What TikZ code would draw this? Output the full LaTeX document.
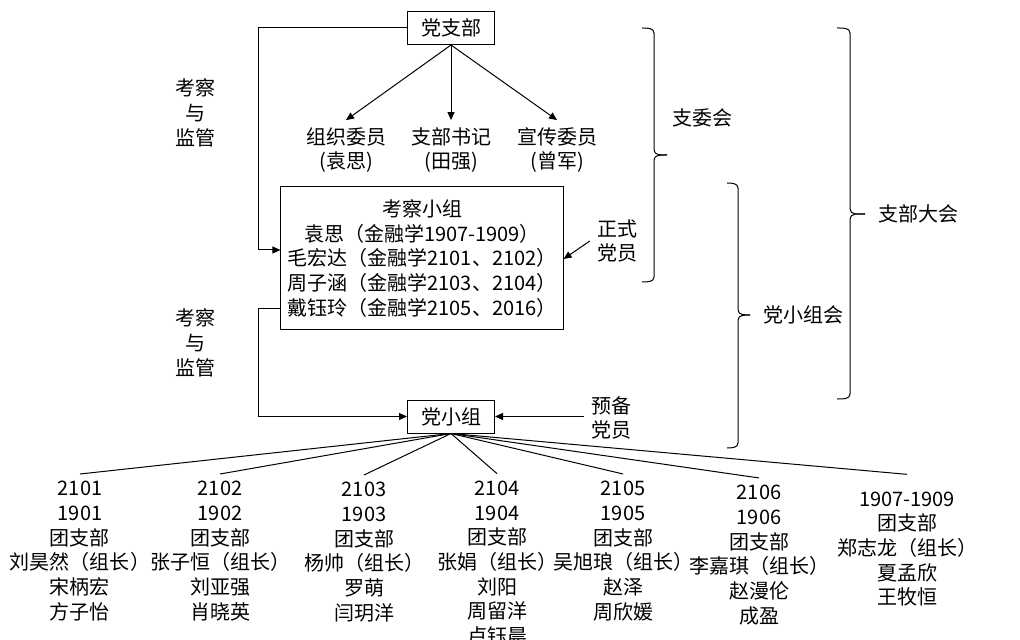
\documentclass[tikz,border=0pt]{standalone}
\usepackage{fontspec}
\setmainfont{Noto Sans CJK SC}
\usetikzlibrary{arrows.meta}

\begin{document}
\begin{tikzpicture}[x=0.5pt, y=-0.5pt, line width=0.5pt,
    every node/.style={font=\fontsize{10pt}{12.35pt}\selectfont},
    box/.style={draw, minimum width=43.5pt, minimum height=16.5pt, inner sep=0pt},
    arr/.style={-{Triangle[length=4pt,width=3.5pt]}}]
    % 0. 画布范围 (单位: 像素)
    \useasboundingbox (0,0) rectangle (1020,640);

    % 1. 党支部与三名支委
    \node[box] (dzb) at (451,28) {党支部};
    \node[align=center] (zzwy) at (346,150) {组织委员\\(袁思)};
    \node[align=center] (zbsj) at (451,150) {支部书记\\(田强)};
    \node[align=center] (xcwy) at (557,150) {宣传委员\\(曾军)};
    \draw[arr] (dzb.south) -- (zzwy.north);
    \draw[arr] (dzb.south) -- (zbsj.north);
    \draw[arr] (dzb.south) -- (xcwy.north);

    % 2. 考察小组与党小组
    \node[draw, align=center, minimum width=140pt, minimum height=71.5pt] (kcxz) at (422,258.5)
        {考察小组\\袁思（金融学1907-1909）\\毛宏达（金融学2101、2102）\\周子涵（金融学2103、2104）\\戴钰玲（金融学2105、2016）};
    \node[box] (dxz) at (451,416.5) {党小组};

    % 3. 左侧考察与监管的折线
    \node[align=center] (kcjg1) at (195,113) {考察\\与\\监管};
    \node[align=center] (kcjg2) at (195,343) {考察\\与\\监管};
    \draw[arr] (dzb.west) -| (258,250) -- (kcxz.west |- 0,250);
    \draw[arr] (kcxz.west |- 0,309) -| (258,416.5) -- (dxz.west);

    % 4. 正式党员与预备党员
    \node[align=center] (zsdy) at (617,241) {正式\\党员};
    \node[align=center] (ybdy) at (611,418) {预备\\党员};
    \draw[arr] (zsdy.west) -- (kcxz.east |- 0,259);
    \draw[arr] (ybdy.west |- dxz.east) -- (dxz.east);

    % 5. 右侧三个括号
    \draw (642,28) to[out=0,in=90] (654,33) -- (654,150) to[out=-90,in=180] (667,155);
    \draw (667,155) to[out=180,in=90] (654,160) -- (654,277) to[out=-90,in=0] (642,282);
    \node (zwh) at (702,118) {支委会};

    \draw (727,183) to[out=0,in=90] (738,188) -- (738,310) to[out=-90,in=180] (750,315);
    \draw (750,315) to[out=180,in=90] (738,320) -- (738,443) to[out=-90,in=0] (727,448);
    \node (dxzh) at (803,315) {党小组会};

    \draw (837,28) to[out=0,in=90] (850,33) -- (850,209) to[out=-90,in=180] (865,214);
    \draw (865,214) to[out=180,in=90] (850,219) -- (850,394) to[out=-90,in=0] (837,399);
    \node (zbdh) at (918,214) {支部大会};

    % 6. 各班级小组
    \node[align=center] (c2101) at (80,551) {2101\\1901\\团支部\\刘昊然（组长）\\宋柄宏\\方子怡};
    \node[align=center] (c2102) at (220,551) {2102\\1902\\团支部\\张子恒（组长）\\刘亚强\\肖晓英};
    \node[align=center] (c2103) at (364,552) {2103\\1903\\团支部\\杨帅（组长）\\罗萌\\闫玥洋};
    \node[align=center] (c2104) at (497,563) {2104\\1904\\团支部\\张娟（组长）\\刘阳\\周留洋\\卢钰晨};
    \node[align=center] (c2105) at (623,551) {2105\\1905\\团支部\\吴旭琅（组长）\\赵泽\\周欣媛};
    \node[align=center] (c2106) at (759,555) {2106\\1906\\团支部\\李嘉琪（组长）\\赵漫伦\\成盈};
    \node[align=center] (c1907) at (907,549) {1907-1909\\团支部\\郑志龙（组长）\\夏孟欣\\王牧恒};
    \draw (dxz.south) -- (c2101.north);
    \draw (dxz.south) -- (c2102.north);
    \draw (dxz.south) -- (c2103.north);
    \draw (dxz.south) -- (c2104.north);
    \draw (dxz.south) -- (c2105.north);
    \draw (dxz.south) -- (c2106.north);
    \draw (dxz.south) -- ([yshift=5pt]c1907.north);

\end{tikzpicture}
\end{document}
